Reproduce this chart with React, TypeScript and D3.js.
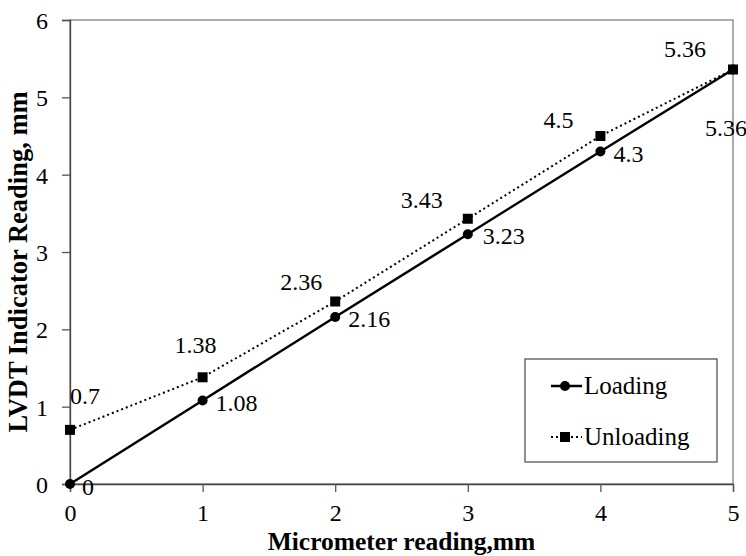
import React, { useEffect, useRef } from "react";
import * as d3 from "d3";

// data
const micrometer = [0, 1, 2, 3, 4, 5];
const loading = [0, 1.08, 2.16, 3.23, 4.3, 5.36];
const unloading = [0.7, 1.38, 2.36, 3.43, 4.5, 5.36];
const xTicks = [0, 1, 2, 3, 4, 5];
const yTicks = [0, 1, 2, 3, 4, 5, 6];

// label nudges (px) so labels sit like in the original
const loadingLabelOffset = [[12, 11], [13, 11], [13, 10], [15, 10], [13, 11], [-28, 67]];
const unloadingLabelOffset = [[30, -26], [14, -24], [-13, -11], [-25, -11], [-27, -8], [-27, -12]];

const width = 746;
const height = 556;
const margins = { top: 20, right: 13, bottom: 72, left: 70 };
const font = "'Times New Roman', Times, 'Liberation Serif', serif";

export default function App() {
	const ref = useRef<SVGSVGElement>(null);

	useEffect(() => {
		const svg = d3.select(ref.current);
		svg.selectAll("*").remove();

		const x = d3.scaleLinear().domain([0, 5]).range([margins.left, width - margins.right]);
		const y = d3.scaleLinear().domain([0, 6]).range([height - margins.bottom, margins.top]);

		// plot area border
		svg.append("rect")
			.attr("x", x(0))
			.attr("y", y(6))
			.attr("width", x(5) - x(0))
			.attr("height", y(0) - y(6))
			.attr("fill", "none")
			.attr("stroke", "#808080")
			.attr("stroke-width", 1.3);

		//Axes
		const xAxis = svg.append("g")
			.attr("transform", `translate(0,${y(0)})`)
			.call(d3.axisBottom(x).tickValues(xTicks).tickSize(8).tickPadding(10).tickFormat(d3.format("d")));
		const yAxis = svg.append("g")
			.attr("transform", `translate(${x(0)},0)`)
			.call(d3.axisLeft(y).tickValues(yTicks).tickSize(8).tickPadding(14).tickFormat(d3.format("d")));
		[xAxis, yAxis].forEach(g => {
			g.attr("font-family", font).attr("font-size", 24);
			g.selectAll("text").attr("fill", "#000");
			g.selectAll("line").attr("stroke", "#555").attr("stroke-width", 1.3);
			g.select(".domain").attr("stroke", "#444").attr("stroke-width", 1.3);
		});
		xAxis.selectAll("text").attr("dy", "0.8em");
		yAxis.selectAll("text").attr("dy", "0.35em");

		// axis titles
		svg.append("text")
			.attr("x", (x(0) + x(5)) / 2)
			.attr("y", 550)
			.attr("text-anchor", "middle")
			.attr("font-family", font)
			.attr("font-weight", "bold")
			.attr("font-size", 25.5)
			.text("Micrometer reading,mm");
		svg.append("text")
			.attr("transform", `translate(27,${(y(0) + y(6)) / 2 + 10}) rotate(-90)`)
			.attr("text-anchor", "middle")
			.attr("font-family", font)
			.attr("font-weight", "bold")
			.attr("font-size", 26.5)
			.text("LVDT Indicator Reading, mm");

		const pts = (vals: number[]) => micrometer.map((m, i) => [m, vals[i]] as [number, number]);
		const lineGen = d3.line<[number, number]>().x(d => x(d[0])).y(d => y(d[1]));

		// unloading (dotted, squares)
		svg.append("path")
			.attr("d", lineGen(pts(unloading)))
			.attr("fill", "none")
			.attr("stroke", "#000")
			.attr("stroke-width", 2)
			.attr("stroke-dasharray", "2,3");
		// loading (solid, circles)
		svg.append("path")
			.attr("d", lineGen(pts(loading)))
			.attr("fill", "none")
			.attr("stroke", "#000")
			.attr("stroke-width", 2.5);

		svg.append("g").selectAll("circle")
			.data(pts(loading))
			.join("circle")
			.attr("cx", d => x(d[0]))
			.attr("cy", d => y(d[1]))
			.attr("r", 5);
		svg.append("g").selectAll("rect")
			.data(pts(unloading))
			.join("rect")
			.attr("x", d => x(d[0]) - 5)
			.attr("y", d => y(d[1]) - 5)
			.attr("width", 10)
			.attr("height", 10);

		// data labels
		const labels = svg.append("g").attr("font-family", font).attr("font-size", 24);
		labels.append("g").selectAll("text")
			.data(pts(loading))
			.join("text")
			.attr("x", (d, i) => x(d[0]) + loadingLabelOffset[i][0])
			.attr("y", (d, i) => y(d[1]) + loadingLabelOffset[i][1])
			.text(d => String(d[1]));
		labels.append("g").selectAll("text")
			.data(pts(unloading))
			.join("text")
			.attr("x", (d, i) => x(d[0]) + unloadingLabelOffset[i][0])
			.attr("y", (d, i) => y(d[1]) + unloadingLabelOffset[i][1])
			.attr("text-anchor", "end")
			.text(d => String(d[1]));

		// legend
		const legend = svg.append("g").attr("transform", "translate(525,359)");
		legend.append("rect")
			.attr("width", 192)
			.attr("height", 103)
			.attr("fill", "#fff")
			.attr("stroke", "#555")
			.attr("stroke-width", 1.3);
		const items = [
			{ name: "Loading", dash: null, y: 27, shape: "circle" },
			{ name: "Unloading", dash: "2,3", y: 78, shape: "square" }
		];
		items.forEach(it => {
			legend.append("line")
				.attr("x1", 26).attr("x2", 57)
				.attr("y1", it.y).attr("y2", it.y)
				.attr("stroke", "#000")
				.attr("stroke-width", it.dash ? 2 : 2.5)
				.attr("stroke-dasharray", it.dash);
			if (it.shape === "circle") {
				legend.append("circle").attr("cx", 40).attr("cy", it.y).attr("r", 5);
			} else {
				legend.append("rect").attr("x", 35).attr("y", it.y - 5).attr("width", 10).attr("height", 10);
			}
			legend.append("text")
				.attr("x", 59)
				.attr("y", it.y + 8)
				.attr("font-family", font)
				.attr("font-size", 25)
				.text(it.name);
		});
	}, []);

	return (
		<svg
			ref={ref}
			width={width}
			height={height}
			style={{ position: "absolute", left: 0, top: 0, background: "#fff" }}
		/>
	);
}
